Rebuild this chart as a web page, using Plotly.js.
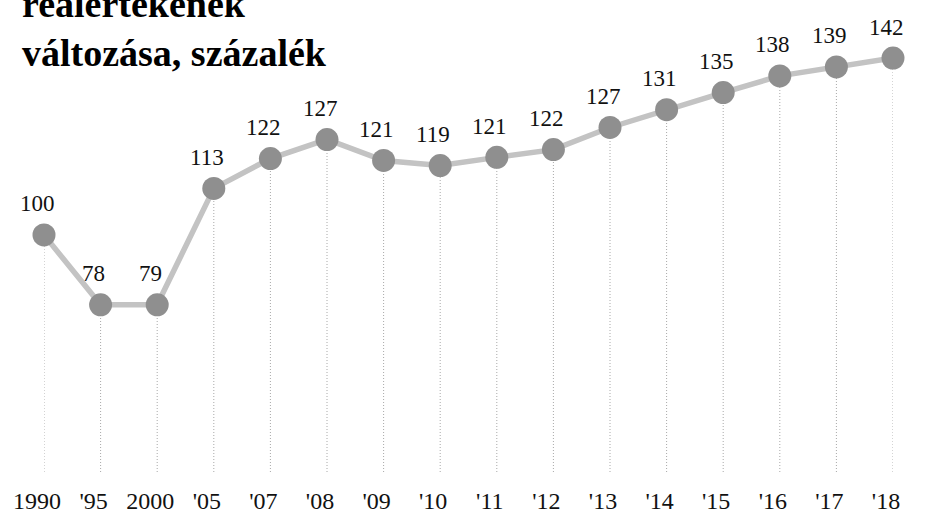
<!DOCTYPE html>
<html>
<head>
<meta charset="utf-8">
<script src="https://cdn.plot.ly/plotly-3.0.1.min.js"></script>
<style>html,body{margin:0;padding:0;background:#fff;}#chart{width:927px;height:514px;}</style>
</head>
<body>
<div id="chart"></div>
<script>
// Categories (years) as tick labels
var years = ["1990", "'95", "2000", "'05", "'07", "'08", "'09", "'10", "'11", "'12", "'13", "'14", "'15", "'16", "'17", "'18"];
// Printed values (index, 1990 = 100)
var printedValues = [100, 78, 79, 113, 122, 127, 121, 119, 121, 122, 127, 131, 135, 138, 139, 142];
// Heights at which the points are drawn in the reference
var drawnLevels = [99.2, 81.2, 81.2, 111.2, 118.9, 123.8, 118.4, 117.1, 119.2, 121.2, 126.9, 131.5, 135.9, 140.2, 142.5, 144.8];
var titleLines = ["reálértékének", "változása, százalék"];

var yMin = 38.1, yMax = 149.45;
var serif = "'Liberation Serif', 'Times New Roman', serif";

var xs = years.map(function (y, i) { return i; });

var shapes = xs.map(function (x, i) {
  return {
    type: 'line', xref: 'x', yref: 'y',
    x0: x, x1: x, y0: yMin, y1: drawnLevels[i],
    line: { color: '#a8a8a8', width: 1, dash: '1px,2px' },
    layer: 'below'
  };
});

var annotations = xs.map(function (x, i) {
  return {
    x: x, y: drawnLevels[i], xref: 'x', yref: 'y',
    text: String(printedValues[i]),
    showarrow: false, yshift: 31, xshift: -7,
    xanchor: 'center', yanchor: 'middle',
    font: { family: serif, size: 23, color: '#111' }
  };
});

var line = {
  x: xs, y: drawnLevels, type: 'scatter', mode: 'lines+markers',
  line: { color: '#c3c3c3', width: 5.5 },
  marker: { color: '#8f8f8f', size: 23 },
  cliponaxis: false, hoverinfo: 'skip'
};

var layout = {
  width: 927, height: 514,
  margin: { l: 44, r: 34, t: 40, b: 42 },
  paper_bgcolor: '#fff', plot_bgcolor: '#fff',
  showlegend: false,
  title: {
    text: titleLines.join('<br>'),
    font: { family: serif, size: 38, color: '#000', weight: 'bold' },
    xref: 'container', yref: 'container', x: 22 / 927, xanchor: 'left',
    y: 1 - 17 / 514, yanchor: 'bottom'
  },
  xaxis: {
    type: 'linear', range: [0, 15], showgrid: false, zeroline: false, showline: false,
    tickmode: 'array', tickvals: xs, ticktext: years, ticks: '',
    ticklabelshift: -7, ticklabelstandoff: 12,
    tickfont: { family: serif, size: 24, color: '#111' }
  },
  yaxis: {
    range: [yMin, yMax], showgrid: false, zeroline: false, showline: false,
    showticklabels: false, ticks: ''
  },
  shapes: shapes,
  annotations: annotations
};

Plotly.newPlot('chart', [line], layout, { displayModeBar: false, staticPlot: true });
</script>
</body>
</html>
